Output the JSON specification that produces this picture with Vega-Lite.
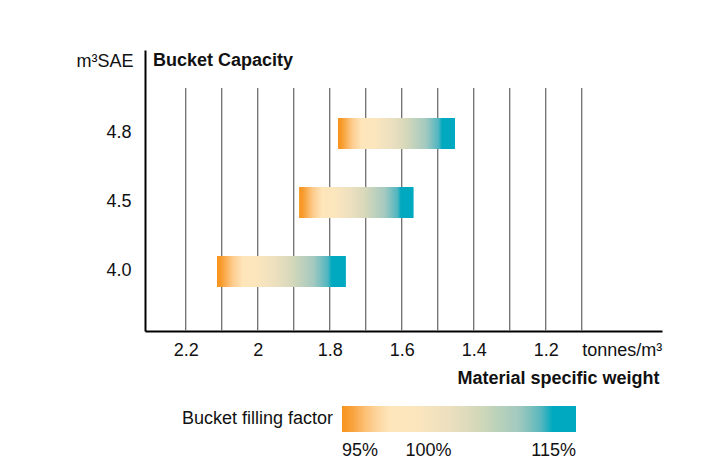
{
  "$schema": "https://vega.github.io/schema/vega-lite/v6.json",
  "width": 517,
  "height": 281,
  "autosize": "none",
  "padding": {"left": 145, "top": 50, "right": 65, "bottom": 142},
  "background": "white",
  "config": {
    "font": "Liberation Sans",
    "view": {"stroke": null},
    "legend": {"padding": 0}
  },
  "title": {
    "text": "Bucket Capacity",
    "anchor": "start",
    "frame": "group",
    "fontSize": 18,
    "fontWeight": "bold",
    "color": "#111111",
    "baseline": "alphabetic",
    "offset": 0,
    "dx": 8,
    "dy": 34
  },
  "resolve": {"scale": {"y": "independent"}, "axis": {"y": "independent"}},
  "layer": [
    {
      "data": {"values": [
        {"w": 2.2}, {"w": 2.1}, {"w": 2.0}, {"w": 1.9}, {"w": 1.8}, {"w": 1.7},
        {"w": 1.6}, {"w": 1.5}, {"w": 1.4}, {"w": 1.3}, {"w": 1.2}, {"w": 1.1}
      ]},
      "mark": {"type": "rule", "color": "#6f6f6f", "strokeWidth": 1.3},
      "encoding": {
        "x": {
          "field": "w", "type": "quantitative",
          "scale": {"domain": [0.877, 2.313], "reverse": true, "nice": false, "zero": false},
          "axis": {
            "values": [2.2, 2.0, 1.8, 1.6, 1.4, 1.2, 1.0],
            "labelExpr": "datum.value < 1.1 ? 'tonnes/m³' : format(datum.value, '~g')",
            "labelOffset": {"condition": {"test": "datum.value < 1.1", "value": 4}, "value": 0},
            "title": "Material specific weight",
            "titleFontSize": 18,
            "titleFontWeight": "bold",
            "titleColor": "#111111",
            "titleAnchor": "end",
            "titleAlign": "right",
            "titleBaseline": "alphabetic",
            "titleX": 514,
            "titleY": 52,
            "labelFontSize": 18,
            "labelColor": "#111111",
            "labelPadding": 10,
            "labelFlush": false,
            "labelOverlap": false,
            "ticks": false,
            "tickSize": 0,
            "domainColor": "#000000",
            "domainWidth": 2,
            "grid": false
          }
        },
        "y": {"datum": 0, "type": "quantitative", "scale": {"domain": [0, 1], "nice": false, "zero": false}, "axis": null},
        "y2": {"datum": 0.865}
      }
    },
    {
      "data": {"values": [
        {"capacity": "4.8", "weight_max": 1.777, "weight_min": 1.452},
        {"capacity": "4.5", "weight_max": 1.885, "weight_min": 1.567},
        {"capacity": "4.0", "weight_max": 2.113, "weight_min": 1.755}
      ]},
      "mark": {
        "type": "bar",
        "stroke": null,
        "fill": {
          "gradient": "linear", "x1": 0, "x2": 1, "y1": 0, "y2": 0,
          "stops": [
            {"offset": 0, "color": "#F7941D"},
            {"offset": 0.03, "color": "#F89A2A"},
            {"offset": 0.12, "color": "#FDCB8C"},
            {"offset": 0.2, "color": "#FEE5BA"},
            {"offset": 0.3, "color": "#FCE6BD"},
            {"offset": 0.45, "color": "#EDE0BF"},
            {"offset": 0.58, "color": "#D6D8BA"},
            {"offset": 0.75, "color": "#A4C9C0"},
            {"offset": 0.86, "color": "#4FB5C0"},
            {"offset": 0.89, "color": "#00A9BF"},
            {"offset": 1, "color": "#00A9BF"}
          ]
        }
      },
      "encoding": {
        "x": {"field": "weight_max", "type": "quantitative", "scale": {"domain": [0.877, 2.313], "reverse": true, "nice": false, "zero": false}},
        "x2": {"field": "weight_min"},
        "y": {
          "field": "capacity", "type": "ordinal",
          "sort": ["4.8", "4.5", "4.0"],
          "scale": {"paddingInner": 0.5507, "paddingOuter": 0.8116, "align": 0.607, "round": false},
          "axis": {
            "title": "m³SAE",
            "titleAngle": 0,
            "titleAlign": "right",
            "titleBaseline": "alphabetic",
            "titleX": -12,
            "titleY": 16,
            "titleFontSize": 18,
            "titleFontWeight": "normal",
            "titleColor": "#111111",
            "labelFontSize": 18,
            "labelColor": "#111111",
            "labelPadding": 14,
            "ticks": false,
            "tickSize": 0,
            "domainColor": "#000000",
            "domainWidth": 2,
            "grid": false
          }
        }
      }
    },
    {
      "data": {"values": [{"factor": 95}, {"factor": 100}, {"factor": 115}]},
      "mark": {"type": "text", "text": ""},
      "encoding": {
        "color": {
          "field": "factor", "type": "quantitative",
          "scale": {
            "type": "linear",
            "domain": [95, 95.6, 97.4, 99, 101, 104, 106.6, 110, 112.2, 112.8, 115],
            "range": ["#F7941D", "#F89A2A", "#FDCB8C", "#FEE5BA", "#FCE6BD", "#EDE0BF", "#D6D8BA", "#A4C9C0", "#4FB5C0", "#00A9BF", "#00A9BF"]
          },
          "legend": {
            "title": "Bucket filling factor",
            "orient": "none",
            "legendX": 37,
            "legendY": 356,
            "direction": "horizontal",
            "gradientLength": 234,
            "gradientThickness": 26,
            "gradientStrokeWidth": 0,
            "titleOrient": "left",
            "titleFontSize": 18,
            "titleFontWeight": "normal",
            "titleColor": "#111111",
            "titleBaseline": "middle",
            "titlePadding": 8,
            "titleLimit": 300,
            "values": [95, 102.4, 115],
            "labelExpr": "datum.value < 96 ? '95%' : datum.value < 110 ? '100%' : '115%'",
            "labelFontSize": 18,
            "labelColor": "#111111",
            "labelOffset": 10,
            "labelOverlap": false
          }
        }
      }
    }
  ]
}
